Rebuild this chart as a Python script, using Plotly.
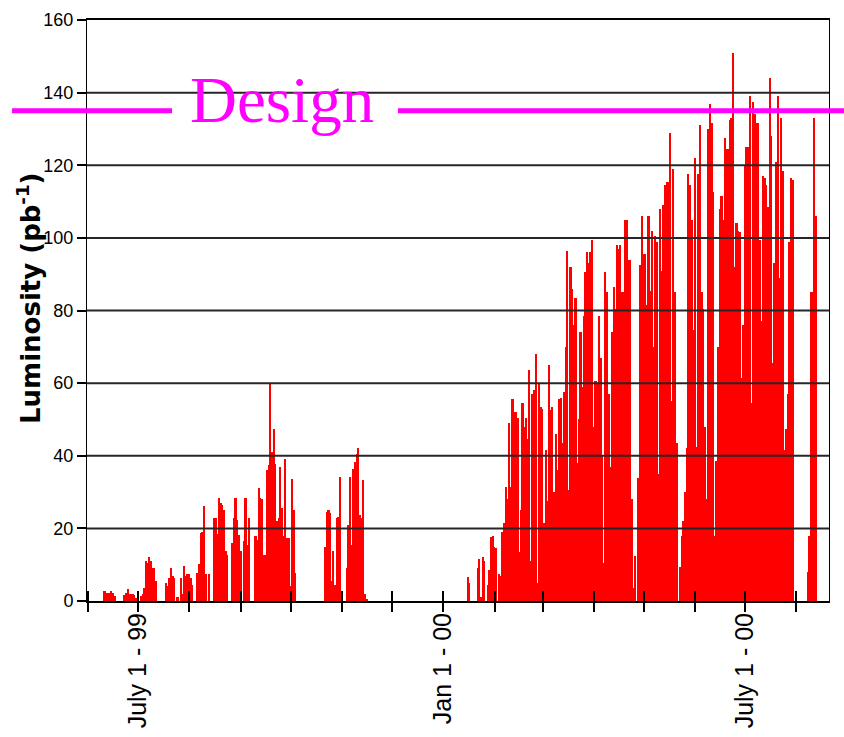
import pandas as pd
import plotly.graph_objects as go

# Daily delivered luminosity, 1999 run (first day 1999-06-11)
run1999_start = "1999-06-11"
lumi_1999 = [
    2.7, 2.2, 2.2, 2.2, 2.7, 2.2, 1.5,
    0, 0, 0, 0, 0,
    1.6, 2.3, 3.2, 2, 2, 2, 1.6, 0.9,
    0, 0,
    1.5, 2, 3.6, 11, 10.5, 12, 11, 9, 9, 5.5,
    0, 0, 0, 0, 0,
    5, 4, 6.4, 9, 6.8, 6.4,
    0, 1, 0,
    6.2, 1.8, 9.7, 7, 7.5, 7.3, 6.4, 4.5,
    0, 0,
    7.7, 10.2, 18.7, 19, 26.2, 7.5, 0, 7.3, 0, 0,
    22.8, 22.8, 18.4, 28.4, 26.9, 26.4, 25, 13.7, 12.8,
    0, 0,
    16, 22.8, 28.4, 22.3, 18.2, 13.7,
    0,
    16.4, 28.4, 15.5, 22.8,
    0, 0, 0,
    17.8, 16.9, 31, 28.4, 28.2, 12.8, 12.8,
    36, 37.4, 60, 41, 47.4, 37.8,
    21.9, 22.8, 36.9, 25.5, 17.8, 39.2, 17.3, 17.3, 4, 33.7, 25, 7.7,
    0, 0, 0, 0, 0, 0, 0, 0, 0, 0, 0, 0, 0, 0, 0, 0, 0,
    15, 24.6, 25, 24.1, 5.5, 13.7, 4.5, 22.8, 23.2, 34.2, 2.7,
    0, 0,
    9, 21, 34.2, 15.5, 36.4, 38.3, 40.5, 42, 23.7, 22.8, 33.3, 1.8, 0.5,
]

# Daily delivered luminosity, 2000 run (first day 2000-01-16)
run2000_start = "2000-01-16"
lumi_2000 = [
    6.5, 5,
    0, 0, 0, 0,
    9, 11.5, 1, 12, 11,
    0,
    4.5, 8.5, 17.5, 18, 15, 14.5,
    0,
    7.5, 7, 19, 21.5, 31.5, 28, 49, 31.5, 55.5, 52,
    52, 50.5, 13.5, 25, 54.5, 48, 50.5, 44.5, 63.5, 11,
    57, 58, 68, 5, 60, 53.5, 53, 21.5, 41.5, 27.5,
    65, 52.5, 53.5, 30, 46, 36, 55.5, 56, 43.5, 57.5,
    70, 96.5, 30.5, 92, 86, 76, 83.5, 38, 50, 74,
    59, 78.5, 90.5, 96, 93, 96, 99.5, 48,
    60.5, 60, 78.5, 67, 40, 10.5, 90.5, 85, 57, 37,
    74, 86.5, 80.5, 98, 97, 98, 85, 85, 105, 105,
    94, 94, 28, 3.5, 12.5, 0, 34, 92.5, 106, 95.5,
    95.5, 81.5, 106, 85.5, 102, 70, 100.5, 99, 35, 108,
    91, 109, 114.5, 115.5, 115.5, 129, 55, 119, 85, 43.5,
    0, 9.5, 18, 22, 30, 42, 117.5, 114.5, 105, 74.5,
    122, 42.5, 117.5, 131, 85, 80.5, 48, 28, 130, 137,
    131.5, 112.5, 18, 38.5, 70, 108, 111.5, 105, 127.5, 124.5,
    124.5, 132.5, 133, 151, 92, 104, 102, 101.5, 61.5, 76,
    120, 125, 125, 139, 54.5, 137.5, 134, 131.5, 131.5, 99.5,
    77, 117, 116.5, 114.5, 108.5, 144, 128, 65.5, 93, 121,
    139, 89, 133, 118.5, 41.5, 47.5, 57, 99, 116.5, 116,
    0, 0, 0, 0, 0, 0, 0, 0,
    8, 18, 85, 85, 133, 106,
]

design_lumi = 135
design_label = "Design"

y_ticks = [0, 20, 40, 60, 80, 100, 120, 140, 160]
x_range = ["1999-05-31 07:00", "2000-08-20 16:00"]
month_ticks = list(pd.date_range("1999-06-01", "2000-08-01", freq="MS"))
label_dates = ["1999-07-01", "2000-01-01", "2000-07-01"]
label_texts = ["July 1 - 99", "Jan 1 - 00", "July 1 - 00"]

dates = list(pd.date_range(run1999_start, periods=len(lumi_1999), freq="D")) + \
    list(pd.date_range(run2000_start, periods=len(lumi_2000), freq="D"))
values = lumi_1999 + lumi_2000

sans = "Liberation Sans, Arial, sans-serif"

fig = go.Figure()
fig.add_trace(go.Bar(
    x=dates, y=values, width=86400000,
    marker=dict(color="#ff0000", line=dict(width=0)),
    showlegend=False, hoverinfo="x+y",
))
# companion axis carrying the outward half of the month ticks
fig.add_trace(go.Scatter(x=[], y=[], xaxis="x2", yaxis="y", showlegend=False))

fig.update_layout(
    width=844, height=737,
    margin=dict(l=87, r=15, t=20, b=136, autoexpand=False),
    paper_bgcolor="white", plot_bgcolor="white",
    bargap=0,
    xaxis=dict(
        type="date", range=x_range, automargin=False,
        tickmode="array", tickvals=label_dates, ticktext=label_texts,
        tickangle=-90, tickfont=dict(family=sans, size=25, color="black"),
        ticklabelstandoff=0,
        ticks="inside", ticklen=10, tickwidth=1.5, tickcolor="black",
        minor=dict(tickmode="array", tickvals=month_ticks, ticks="inside",
                   ticklen=10, tickwidth=1.5, tickcolor="black", showgrid=False),
        showline=True, linewidth=2, linecolor="black", mirror=True,
        showgrid=False, zeroline=False,
    ),
    xaxis2=dict(
        type="date", range=x_range, overlaying="x", anchor="y", side="bottom",
        tickmode="array", tickvals=month_ticks, automargin=False,
        ticks="outside", ticklen=10, tickwidth=1.5, tickcolor="black",
        showticklabels=False, showline=False, showgrid=False, zeroline=False,
    ),
    yaxis=dict(
        range=[0, 160], tickmode="array", tickvals=y_ticks, automargin=False,
        tickfont=dict(family=sans, size=18, color="black"),
        ticks="outside", ticklen=9, tickwidth=1.5, tickcolor="black",
        showline=True, linewidth=1, linecolor="black", mirror=True,
        showgrid=False, zeroline=False,
    ),
)

# horizontal grid drawn over the bars
for v in y_ticks[1:-1]:
    fig.add_shape(type="line", xref="paper", x0=0, x1=1, yref="y", y0=v, y1=v,
                  line=dict(color="#262626", width=2), layer="above")

# design luminosity line, interrupted by its label
for x0, x1 in [(-0.101, 0.1146), (0.4191, 1.03)]:
    fig.add_shape(type="line", xref="paper", x0=x0, x1=x1, yref="y",
                  y0=design_lumi, y1=design_lumi,
                  line=dict(color="#ff00ff", width=5), layer="above")

fig.add_annotation(
    text=design_label, xref="paper", yref="paper", x=0.2628, y=0.862,
    xanchor="center", yanchor="middle", showarrow=False,
    font=dict(family="Liberation Serif, Times New Roman, serif", size=65, color="#ff00ff"),
)

fig.add_annotation(
    text="Luminosity (pb<sup>-1</sup>)", xref="paper", yref="paper",
    x=-0.078, y=0.52, xanchor="center", yanchor="middle", textangle=-90,
    showarrow=False,
    font=dict(family="DejaVu Sans, Liberation Sans, Arial, sans-serif", size=26,
              color="black", weight="bold"),
)

fig.write_html("out.html")
